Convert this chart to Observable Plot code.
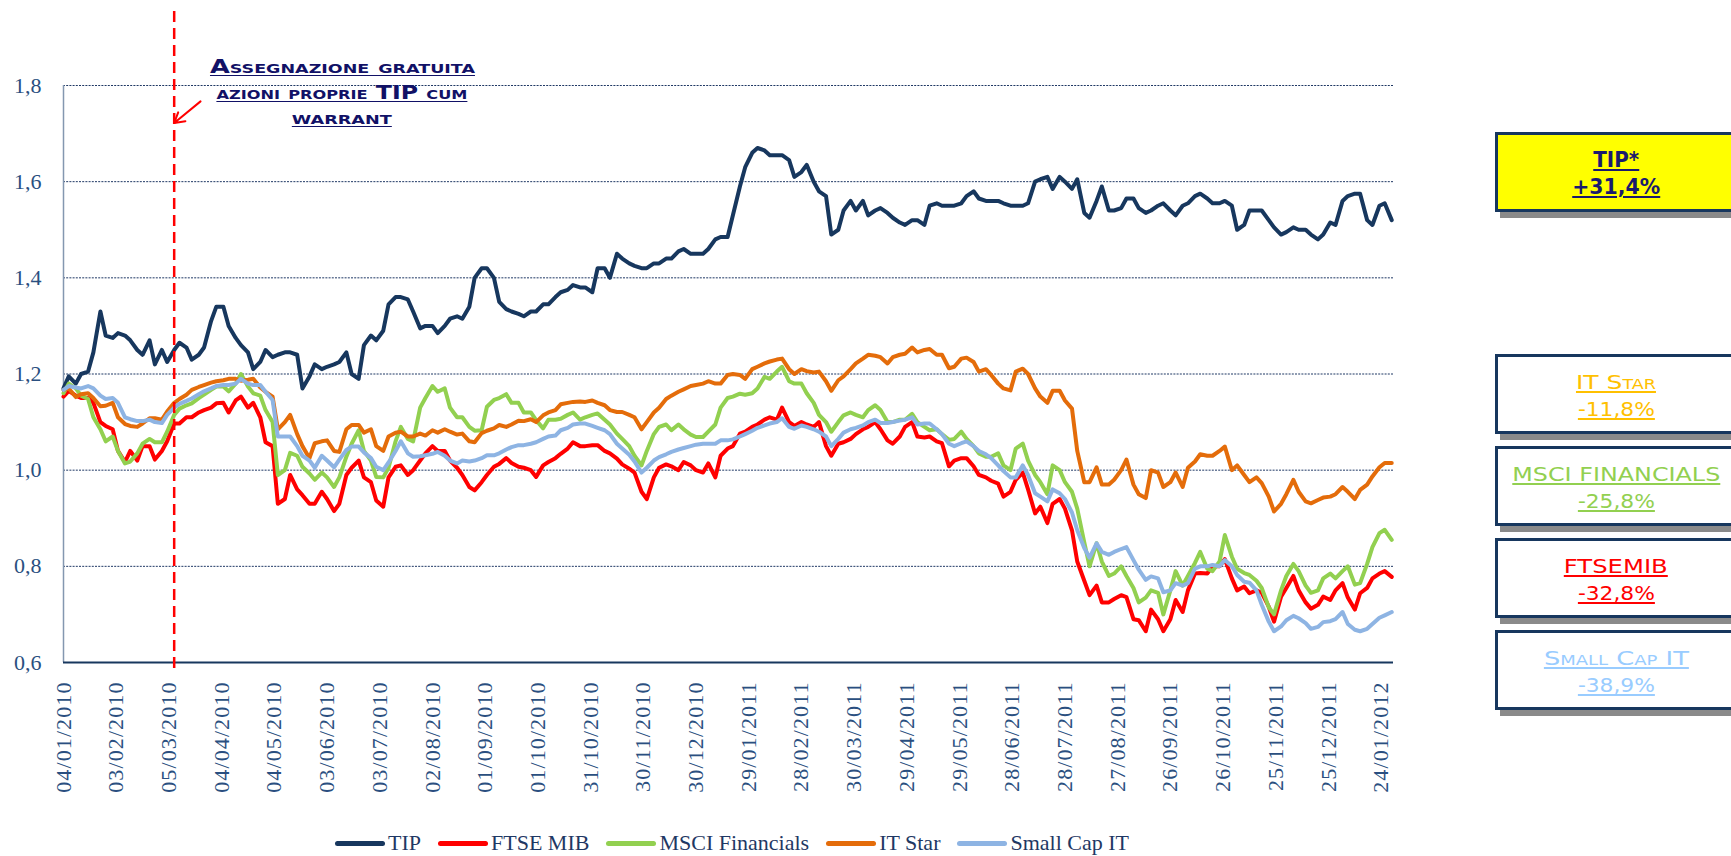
<!DOCTYPE html>
<html>
<head>
<meta charset="utf-8">
<script src="https://cdn.jsdelivr.net/npm/d3@7"></script>
<script src="https://cdn.jsdelivr.net/npm/@observablehq/plot@0.6"></script>
<style>
html, body { margin: 0; padding: 0; overflow: hidden; background: #fff; }
#wrap { position: relative; width: 1731px; height: 856px; overflow: hidden; background: #fff; }
#wrap svg { position: absolute; left: 0; top: 0; }
#wrap svg g[aria-label^="x-axis"] text { letter-spacing: 1.1px; }
.tl { position: absolute; width: 800px; height: 32px; line-height: 32px; text-align: center; white-space: nowrap; z-index: 3; }
.tl span { display: inline-block; text-decoration: underline; text-underline-offset: 2px; transform-origin: 50% 50%; }
.box { position: absolute; box-sizing: border-box; border: 3px solid #17375E; box-shadow: 5px 6px 0 #8a8a8a; z-index: 2; }
#legend { position: absolute; left: 335px; top: 828px; height: 30px; display: flex; align-items: center; font-family: "Liberation Serif", serif; font-size: 22px; color: #1F3864; white-space: nowrap; }
#legend .item { display: flex; align-items: center; margin-right: 17px; }
#legend .sw { width: 50px; height: 5px; border-radius: 3px; margin-right: 3px; }
</style>
</head>
<body>
<div id="wrap"></div>
<script>
// ---------- data ----------
const seriesNames = ["TIP", "FTSE MIB", "MSCI Financials", "IT Star", "Small Cap IT"];
const seriesColors = ["#17375E", "#FF0000", "#92D050", "#E46C0A", "#8EB4E3"];

// samples read twice a week: Mondays (04/01/2010 .. 30/01/2012) and Thursdays (07/01/2010 .. 26/01/2012)
const mondays = d3.utcMonday.range(new Date(Date.UTC(2010, 0, 4)), new Date(Date.UTC(2012, 0, 31)));
const thursdays = d3.utcThursday.range(new Date(Date.UTC(2010, 0, 7)), new Date(Date.UTC(2012, 0, 31)));

const tipMon = [1.17,1.18,1.205,1.33,1.275,1.28,1.25,1.27,1.25,1.25,
1.255,1.24,1.31,1.34,1.275,1.245,1.225,1.235,1.245,1.24,
1.195,1.21,1.22,1.245,1.19,1.28,1.29,1.36,1.355,1.295,
1.30,1.30,1.32,1.34,1.42,1.40,1.335,1.325,1.33,1.345,
1.36,1.375,1.38,1.37,1.42,1.45,1.43,1.42,1.43,1.44,
1.455,1.45,1.45,1.48,1.485,1.59,1.66,1.665,1.655,1.645,
1.62,1.60,1.57,1.50,1.56,1.56,1.54,1.535,1.515,1.52,
1.51,1.555,1.55,1.555,1.58,1.56,1.56,1.55,1.55,1.60,
1.61,1.61,1.585,1.535,1.56,1.54,1.545,1.565,1.535,1.55,
1.54,1.55,1.57,1.565,1.555,1.55,1.51,1.54,1.52,1.49,
1.505,1.50,1.48,1.515,1.56,1.575,1.52,1.55,1.52];
const tipThu = [1.195,1.20,1.245,1.28,1.285,1.27,1.24,1.22,1.225,1.265,
1.23,1.255,1.34,1.30,1.26,1.21,1.25,1.24,1.245,1.17,
1.22,1.215,1.225,1.20,1.26,1.27,1.345,1.36,1.33,1.30,
1.285,1.315,1.315,1.40,1.42,1.35,1.33,1.32,1.33,1.345,
1.37,1.385,1.38,1.42,1.40,1.44,1.425,1.42,1.43,1.44,
1.46,1.45,1.46,1.485,1.53,1.63,1.67,1.655,1.655,1.61,
1.635,1.58,1.49,1.54,1.54,1.53,1.545,1.525,1.51,1.52,
1.55,1.55,1.55,1.57,1.565,1.56,1.555,1.55,1.555,1.605,
1.585,1.60,1.605,1.525,1.59,1.54,1.565,1.545,1.54,1.555,
1.53,1.555,1.575,1.555,1.56,1.50,1.54,1.54,1.505,1.495,
1.50,1.49,1.49,1.51,1.57,1.575,1.51,1.555];

const ftseMon = [1.153,1.155,1.15,1.10,1.085,1.017,1.02,1.05,1.04,1.097,
1.11,1.12,1.13,1.14,1.145,1.13,1.11,1.05,0.94,0.96,
0.93,0.955,0.915,0.99,1.02,0.975,0.924,1.007,0.99,1.02,
1.05,1.04,1.005,0.965,0.975,1.007,1.025,1.007,1.0,1.01,
1.025,1.045,1.05,1.052,1.04,1.024,1.003,0.955,0.985,1.012,
1.0,1.01,0.995,0.985,1.045,1.076,1.09,1.105,1.105,1.10,
1.10,1.09,1.05,1.055,1.065,1.085,1.10,1.062,1.07,1.10,
1.068,1.06,1.008,1.025,1.008,0.985,0.972,0.955,0.995,0.91,
0.89,0.94,0.875,0.77,0.76,0.725,0.74,0.69,0.665,0.69,
0.69,0.705,0.785,0.785,0.80,0.775,0.758,0.75,0.716,0.737,
0.78,0.725,0.72,0.73,0.765,0.71,0.755,0.785,0.778];
const ftseThu = [1.165,1.15,1.14,1.092,1.04,1.04,1.05,1.022,1.06,1.097,
1.11,1.125,1.139,1.12,1.153,1.14,1.058,0.93,0.99,0.948,
0.93,0.94,0.93,1.005,0.985,0.937,0.985,1.01,1.0,1.035,
1.04,1.02,0.99,0.958,0.99,1.013,1.015,1.005,0.986,1.017,
1.034,1.058,1.05,1.052,1.035,1.012,0.995,0.94,1.005,1.008,
1.017,1.0,1.014,1.03,1.05,1.08,1.095,1.11,1.13,1.092,
1.095,1.10,1.03,1.058,1.075,1.09,1.085,1.055,1.09,1.07,
1.07,1.056,1.02,1.025,0.99,0.978,0.945,0.98,0.96,0.924,
0.93,0.92,0.81,0.74,0.725,0.732,0.736,0.688,0.71,0.665,
0.73,0.75,0.786,0.80,0.815,0.75,0.744,0.745,0.685,0.755,
0.75,0.712,0.737,0.75,0.735,0.744,0.775,0.79];

const msciMon = [1.16,1.17,1.148,1.085,1.07,1.014,1.035,1.065,1.058,1.115,
1.135,1.15,1.167,1.174,1.18,1.174,1.155,1.10,1.0,1.03,
0.993,0.995,0.965,1.028,1.083,1.02,0.985,1.06,1.065,1.13,
1.175,1.17,1.11,1.09,1.083,1.146,1.158,1.14,1.12,1.087,
1.105,1.115,1.105,1.115,1.105,1.076,1.05,1.01,1.075,1.095,
1.095,1.074,1.069,1.095,1.15,1.159,1.16,1.194,1.205,1.185,
1.18,1.14,1.10,1.10,1.12,1.11,1.135,1.10,1.105,1.117,
1.09,1.085,1.063,1.08,1.05,1.028,1.035,1.00,1.055,0.99,
0.95,1.0,0.955,0.85,0.848,0.78,0.80,0.755,0.735,0.745,
0.75,0.76,0.807,0.795,0.81,0.82,0.786,0.77,0.715,0.75,
0.805,0.76,0.75,0.785,0.79,0.762,0.805,0.869,0.855];
const msciThu = [1.18,1.155,1.11,1.06,1.04,1.018,1.055,1.058,1.08,1.128,
1.139,1.157,1.174,1.164,1.20,1.16,1.125,0.99,1.036,1.007,
0.98,0.985,0.985,1.055,1.04,0.986,1.005,1.09,1.06,1.15,
1.163,1.13,1.11,1.082,1.132,1.15,1.14,1.12,1.104,1.105,
1.107,1.12,1.11,1.118,1.095,1.065,1.03,1.04,1.09,1.083,
1.085,1.069,1.08,1.13,1.153,1.157,1.17,1.19,1.215,1.18,
1.16,1.115,1.08,1.114,1.115,1.125,1.125,1.10,1.105,1.10,
1.083,1.075,1.065,1.065,1.035,1.028,1.01,1.045,1.02,0.975,
1.01,0.975,0.92,0.80,0.81,0.785,0.78,0.725,0.75,0.70,
0.79,0.78,0.83,0.79,0.865,0.795,0.782,0.755,0.70,0.78,
0.79,0.745,0.775,0.775,0.80,0.765,0.84,0.876];

const itStarMon = [1.167,1.152,1.16,1.133,1.14,1.096,1.09,1.108,1.105,1.14,
1.157,1.173,1.182,1.187,1.19,1.188,1.172,1.153,1.10,1.075,
1.025,1.06,1.04,1.085,1.094,1.085,1.04,1.078,1.07,1.076,
1.083,1.085,1.074,1.06,1.077,1.087,1.09,1.103,1.106,1.114,
1.125,1.14,1.143,1.145,1.135,1.121,1.115,1.085,1.12,1.148,
1.163,1.175,1.18,1.18,1.198,1.198,1.21,1.222,1.23,1.21,
1.21,1.203,1.185,1.187,1.21,1.232,1.238,1.222,1.24,1.255,
1.25,1.24,1.212,1.232,1.225,1.21,1.18,1.166,1.211,1.17,
1.14,1.165,1.128,0.975,1.006,0.97,1.0,0.97,0.942,0.995,
0.975,0.965,1.018,1.03,1.04,1.0,0.99,0.985,0.945,0.93,
0.98,0.935,0.938,0.945,0.965,0.94,0.97,1.006,1.015];
const itStarThu = [1.17,1.158,1.15,1.134,1.11,1.092,1.097,1.108,1.122,1.148,
1.167,1.177,1.185,1.19,1.186,1.19,1.163,1.085,1.115,1.05,
1.056,1.062,1.038,1.094,1.078,1.05,1.07,1.08,1.07,1.072,
1.078,1.08,1.076,1.058,1.082,1.094,1.095,1.102,1.10,1.12,
1.137,1.142,1.142,1.14,1.125,1.121,1.11,1.10,1.13,1.155,
1.168,1.177,1.185,1.18,1.20,1.19,1.215,1.226,1.232,1.20,
1.206,1.205,1.165,1.195,1.222,1.24,1.235,1.235,1.242,1.245,
1.252,1.24,1.215,1.234,1.205,1.198,1.17,1.205,1.20,1.153,
1.165,1.145,1.04,0.975,0.97,0.98,1.022,0.95,1.0,0.965,
0.995,1.005,1.033,1.03,1.049,1.01,0.975,0.973,0.914,0.95,
0.955,0.931,0.943,0.95,0.955,0.959,0.987,1.015];

const smallCapMon = [1.167,1.172,1.175,1.155,1.15,1.11,1.102,1.105,1.098,1.13,
1.144,1.158,1.17,1.177,1.18,1.18,1.177,1.146,1.07,1.05,
1.02,1.03,1.006,1.042,1.049,1.025,1.0,1.04,1.035,1.029,
1.034,1.03,1.014,1.018,1.025,1.031,1.043,1.052,1.055,1.065,
1.072,1.088,1.097,1.092,1.083,1.055,1.032,0.995,1.02,1.033,
1.043,1.05,1.055,1.055,1.062,1.07,1.082,1.093,1.10,1.09,
1.093,1.085,1.07,1.065,1.085,1.093,1.105,1.098,1.103,1.11,
1.097,1.085,1.055,1.056,1.05,1.033,1.01,0.985,1.01,0.952,
0.935,0.952,0.912,0.838,0.848,0.824,0.836,0.813,0.772,0.775,
0.75,0.76,0.795,0.80,0.80,0.80,0.768,0.75,0.685,0.675,
0.697,0.682,0.674,0.686,0.705,0.668,0.67,0.693,0.705];
const smallCapThu = [1.175,1.17,1.17,1.148,1.14,1.106,1.102,1.10,1.115,1.138,
1.149,1.164,1.175,1.177,1.19,1.177,1.163,1.07,1.07,1.03,
1.005,1.02,1.022,1.049,1.037,1.007,1.016,1.06,1.028,1.031,
1.038,1.02,1.02,1.02,1.031,1.035,1.048,1.052,1.058,1.07,
1.083,1.095,1.097,1.088,1.075,1.045,1.018,1.005,1.027,1.038,
1.046,1.053,1.055,1.062,1.064,1.075,1.088,1.097,1.108,1.086,
1.09,1.08,1.05,1.078,1.088,1.10,1.098,1.10,1.105,1.095,
1.097,1.075,1.05,1.06,1.04,1.025,0.998,0.985,0.99,0.945,
0.96,0.94,0.875,0.818,0.83,0.83,0.84,0.793,0.779,0.746,
0.765,0.765,0.80,0.803,0.813,0.782,0.766,0.72,0.665,0.688,
0.692,0.67,0.684,0.69,0.68,0.665,0.68,0.698];

const tickLabels = ["04/01/2010","03/02/2010","05/03/2010","04/04/2010","04/05/2010","03/06/2010",
"03/07/2010","02/08/2010","01/09/2010","01/10/2010","31/10/2010","30/11/2010","30/12/2010",
"29/01/2011","28/02/2011","30/03/2011","29/04/2011","29/05/2011","28/06/2011","28/07/2011",
"27/08/2011","26/09/2011","26/10/2011","25/11/2011","25/12/2011","24/01/2012"];
const yTicks = [0.6, 0.8, 1.0, 1.2, 1.4, 1.6, 1.8];
const gridValues = [0.8, 1.0, 1.2, 1.4, 1.6, 1.8];
const xEnd = "31/01/2012";

const eventDate = "08/03/2010";
const arrowFrom = {date: "23/03/2010", value: 1.767};
const arrowTo = {date: "08/03/2010", value: 1.722};
const noteLines = ["Assegnazione gratuita", "azioni proprie TIP cum", "warrant"];

const boxLabels = ["TIP*", "IT Star", "MSCI FINANCIALS", "FTSEMIB", "Small Cap IT"];
const boxValues = ["+31,4%", "-11,8%", "-25,8%", "-32,8%", "-38,9%"];
const boxTextColors = ["#1A1A6E", "#FFC000", "#92D050", "#FF0000", "#99CCFF"];

// ---------- build ----------
const parse = d3.utcParse("%d/%m/%Y");
const fmt = d3.utcFormat("%d/%m/%Y");
const monValues = [tipMon, ftseMon, msciMon, itStarMon, smallCapMon];
const thuValues = [tipThu, ftseThu, msciThu, itStarThu, smallCapThu];
const rows = [];
seriesNames.forEach((name, i) => {
  mondays.forEach((d, j) => {
    rows.push({series: name, date: d, value: monValues[i][j]});
    if (j < thursdays.length) rows.push({series: name, date: thursdays[j], value: thuValues[i][j]});
  });
});
const tickDates = tickLabels.map(parse);

const chart = Plot.plot({
  width: 1731,
  height: 815,
  marginLeft: 63,
  marginRight: 338,
  marginTop: 85,
  marginBottom: 153,
  style: {fontFamily: "'Liberation Serif', serif", fontSize: "22px", color: "#2A4F80", background: "transparent", overflow: "visible"},
  x: {type: "utc", domain: [tickDates[0], parse(xEnd)], ticks: tickDates, tickFormat: fmt, tickRotate: -90, tickSize: 0, tickPadding: 19, label: null},
  y: {domain: [0.6, 1.8], ticks: yTicks, tickFormat: d => d.toFixed(1).replace(".", ","), tickSize: 0, tickPadding: 22, label: null},
  color: {domain: seriesNames, range: seriesColors},
  marks: [
    Plot.ruleY(gridValues, {stroke: "#1F3864", strokeWidth: 1, strokeDasharray: "2,1.2"}),
    Plot.ruleX([tickDates[0]], {stroke: "#8497B0", strokeWidth: 1.5}),
    Plot.ruleY([0.6], {stroke: "#17375E", strokeWidth: 2}),
    Plot.line(rows, {x: "date", y: "value", z: "series", stroke: "series", strokeWidth: 4, strokeLinejoin: "round", strokeLinecap: "round"}),
    Plot.ruleX([parse(eventDate)], {stroke: "#FF0000", strokeWidth: 2.5, strokeDasharray: "11,6", insetTop: -74, insetBottom: -11}),
    Plot.arrow([{x1: parse(arrowFrom.date), y1: arrowFrom.value, x2: parse(arrowTo.date), y2: arrowTo.value}],
      {x1: "x1", y1: "y1", x2: "x2", y2: "y2", stroke: "#FF0000", strokeWidth: 2, headLength: 16, bend: 0})
  ]
});
const wrap = document.getElementById("wrap");
wrap.appendChild(chart);

function addLine(text, cx, cy, w, css) {
  const d = document.createElement("div");
  d.className = "tl";
  d.style.left = (cx - 400) + "px";
  d.style.top = (cy - 16) + "px";
  Object.assign(d.style, css);
  const s = document.createElement("span");
  s.textContent = text;
  d.appendChild(s);
  wrap.appendChild(d);
  const mw = s.getBoundingClientRect().width;
  if (mw > 0) s.style.transform = `scaleX(${w / mw})`;
}

// annotation
const noteStyle = {fontFamily: "'DejaVu Sans', sans-serif", fontWeight: "bold", fontVariant: "small-caps", fontSize: "19px", color: "#111166"};
const noteLayout = [{cy: 66, w: 265}, {cy: 92, w: 251}, {cy: 117, w: 100}];
noteLines.forEach((t, i) => addLine(t, 342, noteLayout[i].cy, noteLayout[i].w, noteStyle));

// boxes
const boxLayout = {left: 1495, width: 245, height: 80, tops: [132, 354, 446, 538, 630], cx: 1616,
  labelW: [46, 80, 208, 104, 145], valueW: [88, 77, 77, 77, 77]};
boxLabels.forEach((lab, i) => {
  const b = document.createElement("div");
  b.className = "box";
  b.style.left = boxLayout.left + "px";
  b.style.top = boxLayout.tops[i] + "px";
  b.style.width = boxLayout.width + "px";
  b.style.height = boxLayout.height + "px";
  b.style.background = i === 0 ? "#FFFF00" : "#FFFFFF";
  wrap.appendChild(b);
  const st = {fontFamily: "'DejaVu Sans', sans-serif", fontWeight: i === 0 ? "bold" : "normal", fontVariant: "small-caps", fontSize: i === 0 ? "21px" : "20px", color: boxTextColors[i]};
  const top = boxLayout.tops[i];
  addLine(lab, boxLayout.cx, top + 28, boxLayout.labelW[i], st);
  addLine(boxValues[i], boxLayout.cx, top + 55, boxLayout.valueW[i], st);
});

// legend
const lg = document.createElement("div");
lg.id = "legend";
seriesNames.forEach((n, i) => {
  const it = document.createElement("div");
  it.className = "item";
  const sw = document.createElement("div");
  sw.className = "sw";
  sw.style.background = seriesColors[i];
  const tx = document.createElement("span");
  tx.textContent = n;
  it.appendChild(sw);
  it.appendChild(tx);
  lg.appendChild(it);
});
wrap.appendChild(lg);
</script>
</body>
</html>
